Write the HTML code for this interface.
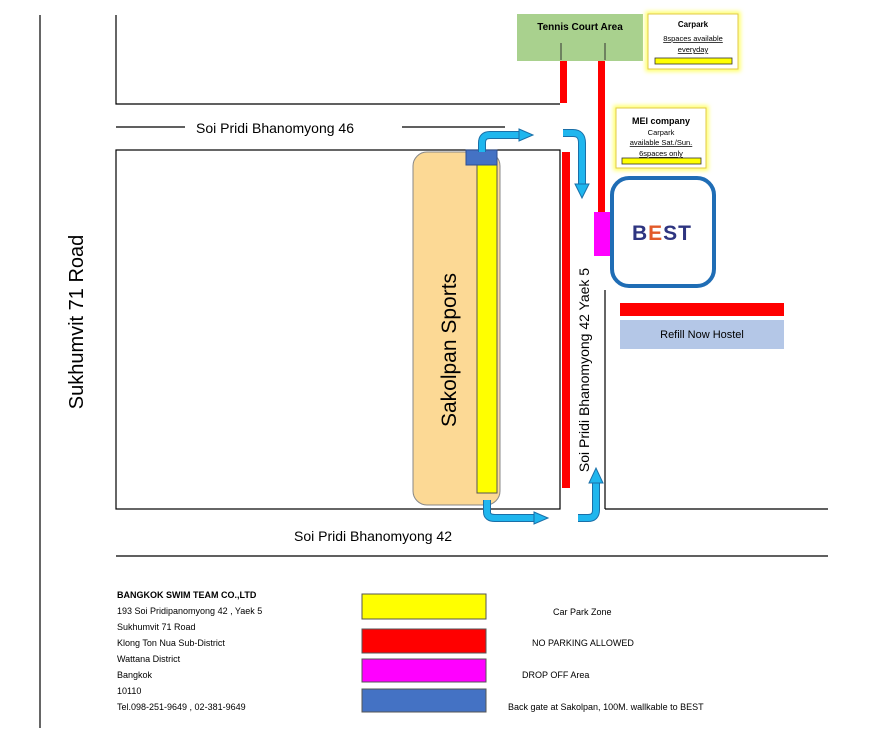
<!DOCTYPE html>
<html><head><meta charset="utf-8"><style>
body{margin:0;background:#fff;width:876px;height:750px;overflow:hidden;font-family:"Liberation Sans",sans-serif}
</style></head><body>
<svg width="876" height="750" xmlns="http://www.w3.org/2000/svg" font-family="Liberation Sans, sans-serif">
<defs><filter id="glow" x="-20%" y="-20%" width="140%" height="140%"><feGaussianBlur stdDeviation="2"/></filter></defs>
<!-- road lines -->
<g stroke="#000" stroke-width="1.2" fill="none">
<line x1="40" y1="15" x2="40" y2="728"/>
<polyline points="116,15 116,104 560,104"/>
<line x1="116" y1="127" x2="185" y2="127"/>
<line x1="402" y1="127" x2="505" y2="127"/>
<rect x="116" y="150" width="444" height="359"/>
<line x1="605" y1="290" x2="605" y2="509"/>
<line x1="605" y1="509" x2="828" y2="509"/>
<line x1="116" y1="556" x2="828" y2="556"/>
</g>
<text x="196" y="133" font-size="14">Soi Pridi Bhanomyong 46</text>
<text x="294" y="541" font-size="14">Soi Pridi Bhanomyong 42</text>
<text transform="translate(83,322) rotate(-90)" font-size="20" text-anchor="middle">Sukhumvit 71 Road</text>
<text transform="translate(589,370) rotate(-90)" font-size="14" text-anchor="middle">Soi Pridi Bhanomyong 42 Yaek 5</text>
<!-- Sakolpan -->
<rect x="413" y="152" width="87" height="353" rx="14" fill="#fcd995" stroke="#888" stroke-width="1"/>
<text transform="translate(456,350) rotate(-90)" font-size="21" text-anchor="middle">Sakolpan Sports</text>
<rect x="477" y="165" width="20" height="328" fill="#ffff00" stroke="#555" stroke-width="1"/>
<rect x="466" y="150" width="31" height="15" fill="#4472c4" stroke="#2f4f8f" stroke-width="1"/>
<!-- red strips -->
<rect x="560" y="60" width="7" height="43" fill="#f00"/>
<rect x="598" y="60" width="7" height="152" fill="#f00"/>
<rect x="562" y="152" width="8" height="336" fill="#f00"/>
<rect x="594" y="212" width="16" height="44" fill="#ff00ff"/>
<!-- tennis -->
<rect x="517" y="14" width="126" height="47" fill="#a9d18e"/>
<text x="580" y="30" font-size="10" font-weight="bold" text-anchor="middle">Tennis Court  Area</text>
<line x1="561" y1="43" x2="561" y2="60" stroke="#333"/><line x1="605" y1="43" x2="605" y2="60" stroke="#333"/>
<!-- carpark boxes -->
<rect x="648" y="14" width="90" height="55" fill="none" stroke="#ffff60" stroke-width="5" filter="url(#glow)"/>
<rect x="648" y="14" width="90" height="55" fill="#fff" stroke="#e0c84a" stroke-width="1"/>
<text x="693" y="27" font-size="8" font-weight="bold" text-anchor="middle">Carpark</text>
<text x="693" y="41" font-size="7.5" text-anchor="middle" text-decoration="underline">8spaces available</text>
<text x="693" y="52" font-size="7.5" text-anchor="middle" text-decoration="underline">everyday</text>
<rect x="655" y="58" width="77" height="6" fill="#ffff00" stroke="#333" stroke-width="0.8"/>
<rect x="616" y="108" width="90" height="60" fill="none" stroke="#ffff60" stroke-width="5" filter="url(#glow)"/>
<rect x="616" y="108" width="90" height="60" fill="#fff" stroke="#e0c84a" stroke-width="1"/>
<text x="661" y="124" font-size="9" font-weight="bold" text-anchor="middle">MEI company</text>
<text x="661" y="135" font-size="7.5" text-anchor="middle">Carpark</text>
<text x="661" y="145" font-size="7.5" text-anchor="middle" text-decoration="underline">available Sat./Sun.</text>
<text x="661" y="156" font-size="7.5" text-anchor="middle" text-decoration="underline">6spaces only</text>
<rect x="622" y="158" width="79" height="6" fill="#ffff00" stroke="#333" stroke-width="0.8"/>
<!-- BEST -->
<rect x="612" y="178" width="102" height="108" rx="17" fill="#fff" stroke="#1f6db5" stroke-width="4"/>
<text x="662" y="240" font-size="21" font-weight="bold" fill="#2e3580" text-anchor="middle" letter-spacing="1">B<tspan fill="#e25a2a">E</tspan>ST</text>
<!-- hostel -->
<rect x="620" y="303" width="164" height="13" fill="#f00"/>
<rect x="620" y="320" width="164" height="29" fill="#b4c7e7"/>
<text x="702" y="338" font-size="11" text-anchor="middle">Refill Now Hostel</text>
<!-- arrows -->
<g fill="none" stroke-linejoin="round">
<g stroke="#1a6fa8" stroke-width="8">
<path d="M482,152 V143 Q482,135 490,135 H520"/>
<path d="M563,133 H573 Q582,133 582,143 V185"/>
<path d="M487,500 V512 Q487,518 495,518 H535"/>
<path d="M578,518 H588 Q596,518 596,510 V482"/>
</g>
<g stroke="#1fb6ee" stroke-width="6">
<path d="M482,152 V143 Q482,135 490,135 H520"/>
<path d="M563,133 H573 Q582,133 582,143 V185"/>
<path d="M487,500 V512 Q487,518 495,518 H535"/>
<path d="M578,518 H588 Q596,518 596,510 V482"/>
</g>
</g>
<g fill="#1fb6ee" stroke="#1a6fa8" stroke-width="1">
<polygon points="519,129 533,135 519,141"/>
<polygon points="575,184 589,184 582,198"/>
<polygon points="534,512 548,518 534,524"/>
<polygon points="589,483 603,483 596,468"/>
</g>
<!-- legend -->
<g font-size="9">
<text x="117" y="598" font-weight="bold">BANGKOK SWIM TEAM CO.,LTD</text>
<text x="117" y="614">193 Soi Pridipanomyong 42 , Yaek 5</text>
<text x="117" y="630">Sukhumvit 71 Road</text>
<text x="117" y="646">Klong Ton Nua Sub-District</text>
<text x="117" y="662">Wattana District</text>
<text x="117" y="678">Bangkok</text>
<text x="117" y="694">10110</text>
<text x="117" y="710">Tel.098-251-9649 , 02-381-9649</text>
<text x="553" y="615">Car Park Zone</text>
<text x="532" y="646">NO PARKING ALLOWED</text>
<text x="522" y="678">DROP OFF Area</text>
<text x="508" y="710">Back gate at Sakolpan, 100M. wallkable to BEST</text>
</g>
<rect x="362" y="594" width="124" height="25" fill="#ffff00" stroke="#555"/>
<rect x="362" y="629" width="124" height="24" fill="#f00" stroke="#555"/>
<rect x="362" y="659" width="124" height="23" fill="#ff00ff" stroke="#555"/>
<rect x="362" y="689" width="124" height="23" fill="#4472c4" stroke="#555"/>
</svg>
</body></html>
